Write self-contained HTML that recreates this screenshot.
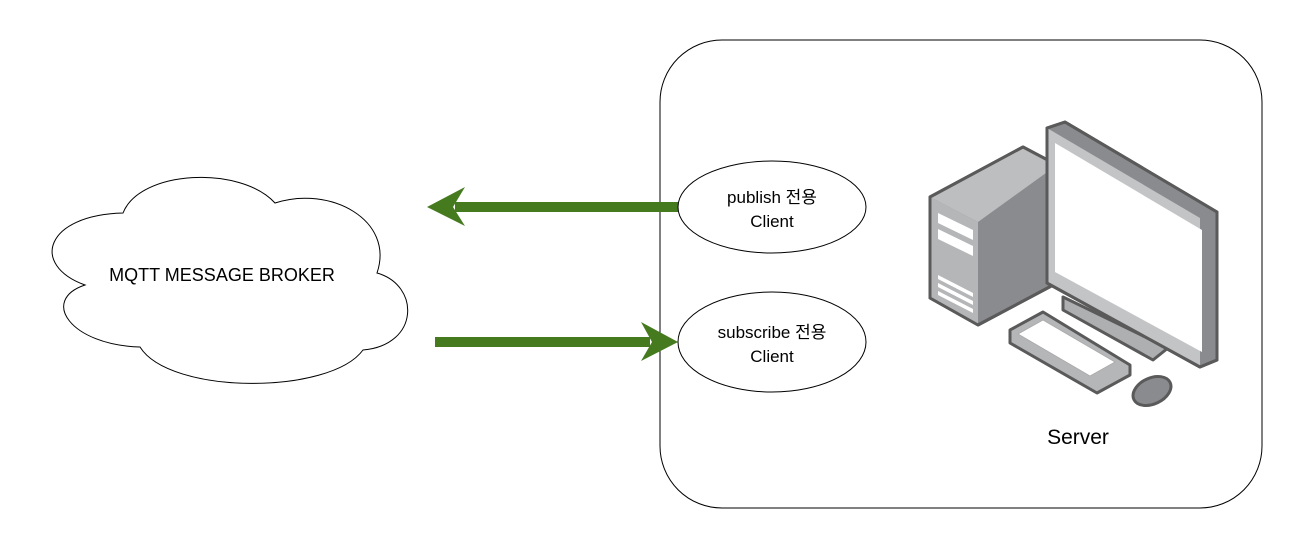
<!DOCTYPE html>
<html><head><meta charset="utf-8"><style>
html,body{margin:0;padding:0;background:#fff;}
svg{display:block;}
text{font-family:"Liberation Sans","Noto Sans CJK KR",sans-serif;}
</style></head><body>
<svg width="1314" height="560" viewBox="0 0 1314 560" xmlns="http://www.w3.org/2000/svg">
<rect x="660" y="40" width="602" height="468" rx="62" fill="#fff" stroke="#000" stroke-width="1"/>
<path d="M123 213 C140 170,240 165,275 203 C330 185,395 220,377 273 C420 285,420 345,363 350 C330 395,170 395,140 347 C70 345,40 300,85 285 C30 265,45 215,123 213 Z" fill="#fff" stroke="#000" stroke-width="1"/>
<text x="222" y="281" font-size="18" text-anchor="middle">MQTT MESSAGE BROKER</text>
<line x1="679" y1="207" x2="455" y2="207" stroke="#467a1f" stroke-width="10"/>
<polygon points="427,207 465,187 453,207 465,226" fill="#467a1f"/>
<line x1="435" y1="342" x2="650" y2="342" stroke="#467a1f" stroke-width="10"/>
<polygon points="678,342 641,322 652,342 641,361" fill="#467a1f"/>
<ellipse cx="772" cy="207" rx="94" ry="46" fill="#fff" stroke="#000"/>
<text x="772" y="203" font-size="17" text-anchor="middle">publish 전용</text>
<text x="772" y="227" font-size="17" text-anchor="middle">Client</text>
<ellipse cx="772" cy="342" rx="94" ry="50" fill="#fff" stroke="#000"/>
<text x="772" y="338" font-size="17" text-anchor="middle">subscribe 전용</text>
<text x="772" y="362" font-size="17" text-anchor="middle">Client</text>
<g stroke="#5a5a5a" stroke-width="3" stroke-linejoin="round">
<polygon points="930,197 1023,147 1057,165 1057,283 978,325 930,298" fill="#8a8b8e"/>
<polygon points="930,197 1023,147 1057,165 978,222" fill="#bdbec0" stroke="none"/>
<polygon points="930,197 978,222 978,325 930,298" fill="#b5b6b8" stroke="none"/>
<polygon points="930,197 1023,147 1057,165 1057,283 978,325 930,298" fill="none"/>
</g>
<g fill="#fff">
<polygon points="938,213 973,230 973,240 938,223"/>
<polygon points="938,229 973,246 973,256 938,239"/>
<polygon points="938,275 973,293 973,297 938,279"/>
<polygon points="938,283 973,301 973,305 938,287"/>
<polygon points="938,291 973,309 973,313 938,295"/>
</g>
<polygon points="1063,297 1168,348 1153,360 1063,310" fill="#aeafb1" stroke="#5a5a5a" stroke-width="3" stroke-linejoin="round"/>
<polygon points="1047,128 1065,122 1217,212 1217,360 1200,367 1047,283" fill="#8a8b8e" stroke="#5a5a5a" stroke-width="3" stroke-linejoin="round"/>
<polygon points="1047,128 1200,218 1200,367 1047,283" fill="#c3c4c6"/>
<polygon points="1055,143 1202,230 1202,352 1055,272" fill="#fff"/>
<polygon points="1047,128 1065,122 1217,212 1217,360 1200,367 1047,283" fill="none" stroke="#5a5a5a" stroke-width="3" stroke-linejoin="round"/>
<polygon points="1010,330 1043,312 1130,365 1130,375 1097,393 1010,343" fill="#b5b6b8" stroke="#5a5a5a" stroke-width="3" stroke-linejoin="round"/>
<polygon points="1018,334 1043,320 1115,362 1090,376" fill="#fff" stroke="#aaa" stroke-width="0.8"/>
<ellipse cx="1152" cy="391" rx="20" ry="13" transform="rotate(-25 1152 391)" fill="#8a8b8e" stroke="#5a5a5a" stroke-width="3"/>
<text x="1078" y="444" font-size="21" text-anchor="middle">Server</text>
</svg>
</body></html>
